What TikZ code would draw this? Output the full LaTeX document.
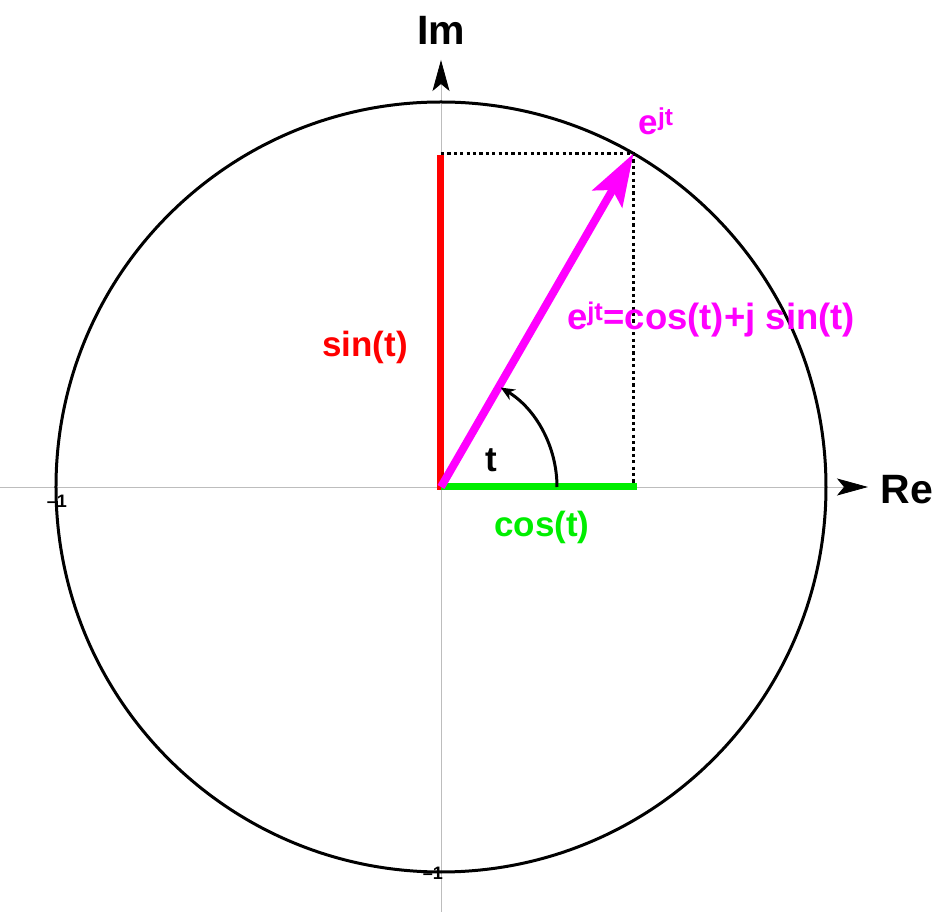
\documentclass[tikz,border=0pt]{standalone}
\usepackage{fontspec}
\setmainfont{Liberation Sans}
\usepackage{tikz}
\usetikzlibrary{positioning, arrows.meta, calc}
\definecolor{phasor}{HTML}{FF00FF}
\definecolor{sinred}{HTML}{FF0000}
\definecolor{cosgreen}{HTML}{00EE00}
\definecolor{axisgray}{HTML}{BDBDBD}

\begin{document}
\begin{tikzpicture}[x=1pt, y=1pt,
    axisline/.style={draw=axisgray, line width=0.8pt,
      -{Stealth[length=31pt, width=17pt, inset=7pt, color=black]}},
    lbl/.style={font=\fontsize{35}{40}\selectfont\bfseries, inner sep=0pt},
    tick/.style={font=\fontsize{18}{20}\selectfont\bfseries, inner sep=0pt}]
  \useasboundingbox (-441,-425) rectangle (499,487);

  % axes
  \coordinate (O) at (0,0);
  \coordinate (xend) at (427,0);
  \coordinate (yend) at (0,427);
  \draw[axisline] (-441,0) -- (xend);
  \draw[axisline] (0,-425) -- (yend);
  \node[lbl, font=\fontsize{41}{44}\selectfont\bfseries] (re) at (466,-3) {Re};
  \node[lbl, font=\fontsize{41}{44}\selectfont\bfseries] (im) at (0,457) {Im};

  % unit circle
  \draw[line width=3pt] (O) circle[radius=385pt];
  \node[tick] (mx) at (-384,-14) {–1};
  \node[tick] (my) at (-8,-386) {–1};

  % e^{jt}, t = 60 deg
  \coordinate (P) at (60:385pt);
  \coordinate (Px) at (P |- O);
  \coordinate (Py) at (P -| O);
  \draw[line width=3.2pt, dash pattern=on 3.2pt off 3.2pt] (Py) -- (P) -- (Px);
  \draw[line width=7pt, draw=sinred] (0,-3) -- ($(Py)+(0,-1)$);
  \draw[line width=7pt, draw=cosgreen] (O) -- ($(Px)+(3,0)$);
  \draw[line width=8pt, draw=phasor,
    -{Stealth[length=52pt, width=34pt, inset=10pt]}] (O) -- (P);

  % angle
  \draw[line width=3pt, -{Stealth[length=14pt, width=12pt]}]
    (116,0) arc[start angle=0, end angle=59, radius=116pt];
  \node[lbl] (t) at (50,27) {t};

  % labels
  \node[lbl, text=sinred] (sinlbl) at (-76,140) {sin(t)};
  \node[lbl, text=cosgreen] (coslbl) at (101,-40) {cos(t)};
  \node[lbl, text=phasor] (plbl) at (215,366) {e\textsuperscript{jt}};
  \node[lbl, text=phasor, font=\fontsize{36.5}{40}\selectfont\bfseries]
    (euler) at (270,167) {e\textsuperscript{jt}=cos(t)+j sin(t)};
\end{tikzpicture}
\end{document}
